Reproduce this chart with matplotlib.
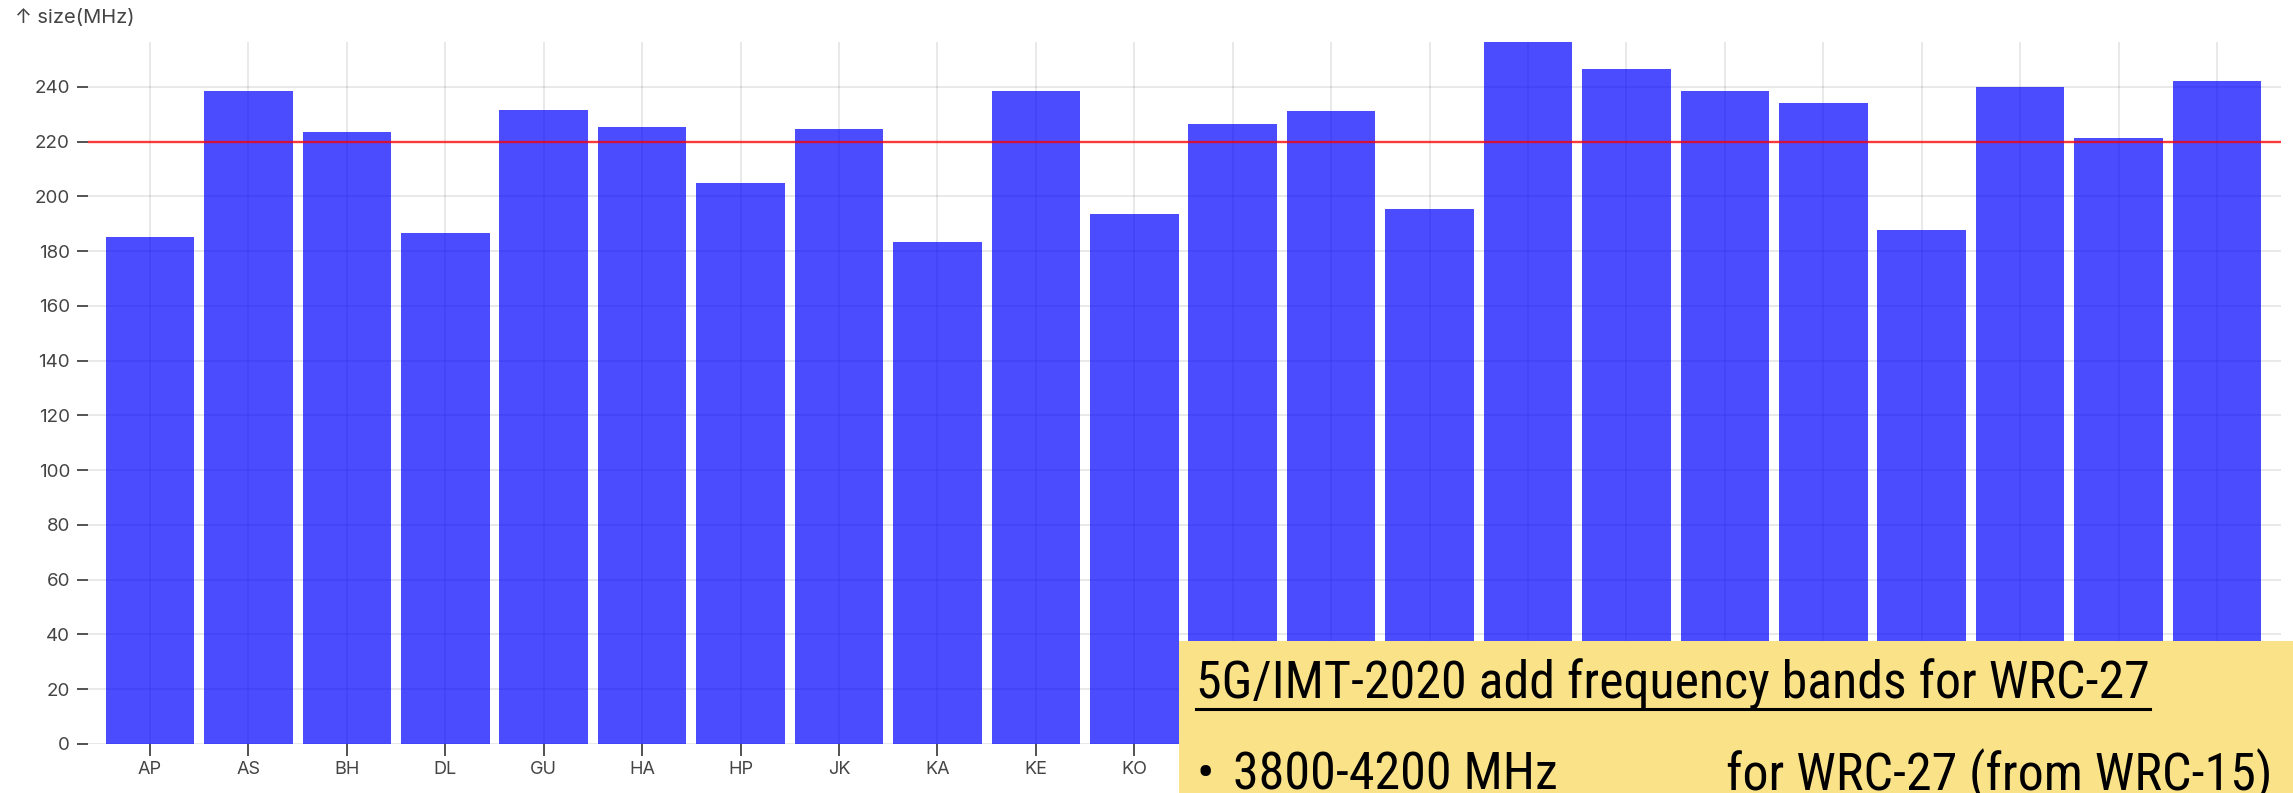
import matplotlib
matplotlib.use("Agg")
import matplotlib.pyplot as plt
from matplotlib import font_manager
from matplotlib.lines import Line2D

# ---- data ----
circles = ["AP", "AS", "BH", "DL", "GU", "HA", "HP", "JK", "KA", "KE", "KO",
           "MH", "MP", "MU", "NE", "OR", "PB", "RJ", "TN", "UE", "UW", "WB"]
size_mhz = [185.3, 238.6, 223.4, 186.7, 231.6, 225.5, 204.8, 224.5, 183.2, 238.5, 193.6,
            226.3, 231.2, 195.4, 256.3, 246.4, 238.4, 234.2, 187.7, 240.0, 221.2, 242.0]
y_ticks = [0, 20, 40, 60, 80, 100, 120, 140, 160, 180, 200, 220, 240]
threshold = 220
y_label = "↑ size(MHz)"
note_title = "5G/IMT-2020 add frequency bands for WRC-27"
note_bullet = "•"
note_band = "3800-4200 MHz"
note_text = "for WRC-27 (from WRC-15)"

W, H = 2293, 793
DPI = 100
plt.rcParams['font.family'] = ['Inter', 'DejaVu Sans']

fig = plt.figure(figsize=(W / DPI, H / DPI), dpi=DPI)
fig.patch.set_facecolor("white")

def px_x(x):
    return x / W

def px_y(y):
    return 1 - y / H

box_left = 1179
box_top = 641

ax = fig.add_axes([px_x(88), px_y(744), (2281 - 88) / W, (744 - 42.3) / H])
x = list(range(len(circles)))
ax.set_axisbelow(True)
ax.bar(x, size_mhz, width=0.9, color="blue", alpha=0.7, linewidth=0, zorder=2)
ax.axhline(threshold, color="red", lw=1.7, alpha=0.75, zorder=3)

ax.set_xlim(-0.63, 21.65)
ax.set_ylim(0, max(size_mhz))
ax.set_xticks(x)
ax.set_xticklabels(circles)
ax.set_yticks(y_ticks)
ax.grid(True, color="black", alpha=0.1, lw=1.2)
for s in ax.spines.values():
    s.set_visible(False)
ax.tick_params(axis="y", length=8, width=1.3, pad=5, labelsize=13.5,
               colors="#444444")
ax.tick_params(axis="x", length=8.5, width=1.3, pad=4, labelsize=13,
               colors="#444444")
ax.set_facecolor("white")

# labels lying under the yellow note are covered in the reference
fig.canvas.draw()
for lbl in ax.get_xticklabels():
    bb = lbl.get_window_extent()
    if bb.x1 > box_left:
        lbl.set_visible(False)

fig.text(px_x(15), px_y(23), y_label, fontsize=14.5, color="#444444",
         va="baseline", ha="left")

# ---- yellow overlay note ----
avail = {f.name for f in font_manager.fontManager.ttflist}
note_font = None
for cand in ["Liberation Sans Narrow", "Roboto Condensed", "DejaVu Sans Condensed",
             "Liberation Sans"]:
    if cand in avail:
        note_font = cand
        break
if note_font is None:
    note_font = "DejaVu Sans"

nax = fig.add_axes([px_x(box_left), 0, (W - box_left) / W, (H - box_top) / H])
nax.set_facecolor("#FAE289")
nax.set_xlim(box_left, W)
nax.set_ylim(H, box_top)
nax.set_xticks([])
nax.set_yticks([])
for s in nax.spines.values():
    s.set_visible(False)
nax.set_zorder(10)

# fit font size to the title width seen in the reference
renderer = fig.canvas.get_renderer()
probe = fig.text(0, 0, note_title, fontsize=20, family=note_font)
w20 = probe.get_window_extent(renderer).width
probe.remove()
target_w = 2150 - 1196
fs = 20 * target_w / w20

nax.text(1196, 699, note_title, fontsize=fs, family=note_font,
         color="black", va="baseline", ha="left", clip_on=True)
nax.add_line(Line2D([1196, 1196 + target_w], [709, 709], color="black", lw=2.2))
nax.text(1196, 790, note_bullet, fontsize=fs, family=note_font,
         color="black", va="baseline", ha="left", clip_on=True)
nax.text(1233, 790, note_band, fontsize=fs, family=note_font,
         color="black", va="baseline", ha="left", clip_on=True)
nax.text(1726, 790, note_text, fontsize=fs, family=note_font,
         color="black", va="baseline", ha="left", clip_on=True)

fig.savefig("out.png", dpi=DPI)
